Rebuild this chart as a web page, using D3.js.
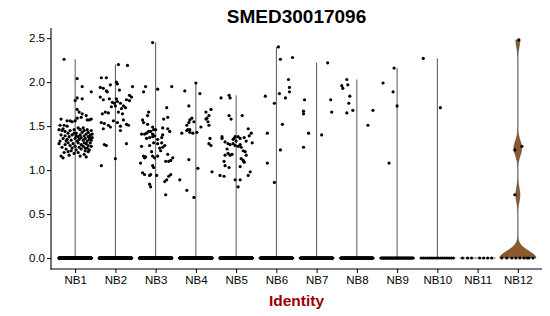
<!DOCTYPE html>
<html>
<head>
<meta charset="utf-8">
<script src="https://cdn.jsdelivr.net/npm/d3@7"></script>
<style>
  html, body { margin: 0; padding: 0; background: #fff; }
  svg { display: block; font-family: "Liberation Sans", Arial, Helvetica, sans-serif; }
</style>
</head>
<body>
<svg id="chart" width="550" height="316"></svg>
<script>
// ---------------- DATA ----------------
const title = "SMED30017096";
const xTitle = "Identity";
const categories = ["NB1","NB2","NB3","NB4","NB5","NB6","NB7","NB8","NB9","NB10","NB11","NB12"];
const yTicks = [0.0, 0.5, 1.0, 1.5, 2.0, 2.5];

// non-zero expression values per identity: [jitter (in 40ths of a category step), value]
const exprNB1 = [[-11,2.26],[2,2.04],[7,1.95],[16,1.89],[2,1.82],[0,1.79],[7,1.81],[2,1.69],[4,1.66],[7,1.64],[11,1.62],[6,1.60],[2,1.59],[16,1.58],[12,1.57],[14,1.57],[0,1.56],[-14,1.58],[-8,1.56],[-5,1.56],[-3,1.55],[-15,1.51],[-11,1.51],[-8,1.50],[-16,1.46],[-13,1.45],[-10,1.44],[-5,1.45],[-1,1.46],[3,1.48],[8,1.48],[12,1.46],[16,1.45],[-14,1.40],[-10,1.39],[-6,1.38],[-3,1.40],[1,1.42],[3,1.38],[5,1.40],[7,1.43],[9,1.39],[11,1.41],[13,1.38],[15,1.40],[17,1.37],[-12,1.36],[-8,1.35],[-4,1.34],[0,1.36],[2,1.33],[4,1.35],[6,1.37],[8,1.34],[10,1.36],[12,1.33],[14,1.35],[16,1.34],[-15,1.33],[-7,1.31],[-2,1.30],[3,1.31],[6,1.29],[9,1.31],[11,1.30],[13,1.28],[15,1.31],[-10,1.29],[-5,1.28],[0,1.27],[4,1.26],[8,1.27],[12,1.25],[16,1.27],[-13,1.26],[-9,1.24],[-3,1.25],[1,1.23],[6,1.24],[10,1.22],[14,1.23],[-11,1.20],[-7,1.21],[-1,1.19],[3,1.20],[9,1.18],[13,1.21],[-14,1.16],[-12,1.14],[-6,1.17],[5,1.16],[11,1.15],[5,1.46],[9,1.45],[-1,1.42],[-7,1.42],[-12,1.47],[1,1.39],[-9,1.33],[13,1.43],[10,1.25],[-4,1.22],[15,1.37],[17,1.41],[-16,1.30]];
const exprNB2 = [[3,2.20],[12,2.19],[-14,2.05],[-9,2.05],[1,2.00],[2,1.98],[17,1.95],[-15,1.94],[-12,1.93],[-9,1.90],[-8,1.89],[-15,1.83],[-12,1.80],[1,1.81],[11,1.80],[14,1.85],[-6,1.81],[-3,1.77],[-1,1.76],[2,1.78],[5,1.76],[8,1.73],[10,1.71],[6,1.70],[-4,1.72],[0,1.73],[14,1.79],[16,1.83],[-10,1.66],[-13,1.64],[-7,1.65],[3,1.66],[7,1.64],[-14,1.54],[-11,1.53],[-7,1.51],[-5,1.49],[-2,1.56],[2,1.54],[5,1.50],[11,1.52],[13,1.51],[5,1.45],[-11,1.29],[-9,1.28],[11,1.30],[-14,1.05],[0,1.13],[-12,1.47],[8,1.57],[-5,1.97],[4,1.91]];
const exprNB3 = [[-3,2.45],[-10,1.95],[-12,1.89],[2,1.92],[16,1.95],[11,1.71],[8,1.58],[12,1.60],[-7,1.66],[-8,1.62],[-13,1.57],[-12,1.54],[-8,1.52],[-3,1.49],[-2,1.46],[0,1.46],[-5,1.44],[-7,1.44],[-3,1.41],[-9,1.42],[7,1.48],[12,1.47],[-14,1.41],[-11,1.41],[-6,1.37],[-3,1.38],[-1,1.39],[2,1.35],[14,1.44],[7,1.40],[6,1.37],[-9,1.36],[-2,1.31],[2,1.30],[6,1.31],[9,1.28],[7,1.26],[4,1.25],[-14,1.27],[-6,1.28],[-12,1.16],[-10,1.15],[-11,1.14],[-3,1.16],[-1,1.14],[2,1.16],[17,1.14],[15,1.11],[10,1.10],[13,1.10],[-3,1.05],[-2,1.03],[12,1.18],[-15,1.08],[-13,0.97],[-11,0.95],[-6,0.94],[-5,0.95],[1,0.94],[13,0.93],[15,0.95],[11,0.89],[9,0.87],[-6,0.84],[-5,0.81],[10,0.72],[5,1.22],[-4,1.21]];
const exprNB4 = [[0,1.99],[-11,1.90],[4,1.87],[-7,1.73],[10,1.66],[15,1.69],[-4,1.59],[-6,1.57],[-7,1.54],[-9,1.51],[11,1.59],[12,1.55],[13,1.51],[-14,1.42],[-9,1.45],[-6,1.46],[-3,1.42],[1,1.43],[5,1.49],[14,1.36],[13,1.30],[15,1.28],[-7,1.12],[2,1.02],[16,0.98],[-16,0.89],[-9,0.77],[-2,0.69],[-8,1.46],[-6,1.43],[10,1.58],[-2,1.55],[13,1.62]];
const exprNB5 = [[-15,1.82],[-7,1.85],[-6,1.82],[-7,1.62],[-5,1.58],[6,1.62],[12,1.47],[15,1.42],[13,1.39],[-14,1.38],[-14,1.36],[-2,1.36],[-1,1.38],[2,1.38],[4,1.36],[8,1.37],[-3,1.35],[-11,1.32],[-8,1.30],[-6,1.29],[-3,1.30],[-1,1.28],[2,1.27],[4,1.29],[5,1.26],[16,1.31],[7,1.22],[9,1.21],[10,1.17],[-8,1.19],[-6,1.17],[-4,1.18],[-11,1.17],[5,1.13],[7,1.11],[8,1.09],[-12,1.10],[-11,1.05],[-7,1.03],[14,0.98],[4,1.04],[-16,0.94],[-12,0.93],[12,0.94],[-1,0.89],[4,0.89],[2,0.81],[-9,1.24],[10,1.33],[0,1.33]];
const exprNB6 = [[2,2.40],[4,2.26],[16,2.28],[12,2.03],[13,1.94],[13,1.89],[3,1.87],[9,1.82],[-11,1.84],[-2,1.76],[6,1.52],[-9,1.42],[4,1.23],[-9,1.08],[-2,0.86]];
const exprNB7 = [[-12,1.80],[-13,1.67],[-13,1.64],[-8,1.42],[-13,1.26],[11,2.22],[5,1.40],[14,1.80],[15,1.66]];
const exprNB8 = [[-10,2.03],[-15,1.96],[-9,1.97],[-14,1.93],[-7,1.84],[-8,1.76],[-10,1.65],[-4,1.68],[16,1.68],[11,1.51]];
const exprNB9 = [[-3,2.16],[-14,1.99],[-4,1.89],[0,1.73],[-8,1.08]];
const exprNB10 = [[-14,2.27],[3,1.71]];
const exprNB11 = [];
const exprNB12 = [[1,2.48],[-3,1.23],[4,1.27],[-3,0.72]];

// number of cells with zero expression per identity
const zeroCounts = [420, 320, 360, 360, 320, 160, 130, 120, 45, 16, 0, 0];
// sparse zero-expression cells read individually: jitter positions
const zeroJitterNB11 = [-15,-10,-6,2,6,10,14];
const zeroJitterNB12 = [-16,-11,-2,2,6,11,15,-6,9];

// ---------------- CHART ----------------
const exprByGroup = [exprNB1,exprNB2,exprNB3,exprNB4,exprNB5,exprNB6,exprNB7,exprNB8,exprNB9,exprNB10,exprNB11,exprNB12];
const violinFill = "#8C5A28";
const svg = d3.select("#chart");

const x = d3.scalePoint().domain(categories).range([51, 542]).padding(0.6);
const y = d3.scaleLinear().domain([-0.124, 2.604]).range([269, 29]);
const step = x.step();
const jx = j => j / 40 * step;
const halfW = 0.45 * step;

// violins
const gV = svg.append("g");
categories.forEach((cat, i) => {
  const cx = x(cat);
  const vals = exprByGroup[i].map(d => d[1]);
  const nZero = i === 10 ? zeroJitterNB11.length : (i === 11 ? zeroJitterNB12.length : zeroCounts[i]);
  const maxV = vals.length ? d3.max(vals) : 0;
  if (i === 11) {
    const h = 0.08;
    const all = vals.concat(d3.range(nZero).map(() => 0));
    const grid = d3.range(0, 513).map(k => k / 512 * maxV);
    const dens = grid.map(g => ({v: g, d: d3.sum(all, a => Math.exp(-0.5 * ((g - a) / h) ** 2))}));
    const dMax = d3.max(dens, d => d.d);
    const area = d3.area()
      .y(d => y(d.v))
      .x0(d => cx - d.d / dMax * halfW)
      .x1(d => cx + d.d / dMax * halfW);
    gV.append("path").datum(dens).attr("d", area)
      .attr("fill", violinFill).attr("stroke", "#3a3a3a").attr("stroke-width", 0.6);
  } else {
    gV.append("line").attr("x1", cx - halfW).attr("x2", cx + halfW)
      .attr("y1", y(0)).attr("y2", y(0)).attr("stroke", "#444").attr("stroke-width", 0.8);
    if (maxV > 0) {
      gV.append("line").attr("x1", cx).attr("x2", cx)
        .attr("y1", y(0)).attr("y2", y(maxV)).attr("stroke", "#555").attr("stroke-width", 1);
    }
  }
});

// points
const gP = svg.append("g");
categories.forEach((cat, i) => {
  const cx = x(cat);
  let zj;
  if (i === 10) zj = zeroJitterNB11;
  else if (i === 11) zj = zeroJitterNB12;
  else zj = d3.range(zeroCounts[i]).map(k => -16 + 32 * k / Math.max(1, zeroCounts[i] - 1));
  gP.selectAll(null).data(zj).enter().append("circle")
    .attr("cx", d => cx + jx(d)).attr("cy", y(0)).attr("r", 1.5).attr("fill", "#000");
  gP.selectAll(null).data(exprByGroup[i]).enter().append("circle")
    .attr("cx", d => cx + jx(d[0])).attr("cy", d => y(d[1])).attr("r", 1.6).attr("fill", "#000");
});

// axes
const yAxis = d3.axisLeft(y).tickValues(yTicks).tickFormat(d3.format(".1f")).tickSize(4).tickPadding(2);
const gy = svg.append("g").attr("transform", "translate(51,0)").call(yAxis);
gy.select(".domain").remove();
gy.selectAll(".tick line").attr("stroke", "#000");
gy.selectAll("text").attr("font-size", 11.5).attr("fill", "#000").attr("font-family", "Liberation Sans, Arial, sans-serif");

const xAxis = d3.axisBottom(x).tickSize(4).tickPadding(3);
const gx = svg.append("g").attr("transform", "translate(0,269)").call(xAxis);
gx.select(".domain").remove();
gx.selectAll(".tick line").attr("stroke", "#000");
gx.selectAll("text").attr("font-size", 11.5).attr("fill", "#000").attr("font-family", "Liberation Sans, Arial, sans-serif");

svg.append("line").attr("x1", 51).attr("x2", 51).attr("y1", 28).attr("y2", 269.5).attr("stroke", "#000").attr("stroke-width", 1.1);
svg.append("line").attr("x1", 50.5).attr("x2", 542).attr("y1", 269).attr("y2", 269).attr("stroke", "#000").attr("stroke-width", 1.1);

// titles
svg.append("text").attr("x", 296.5).attr("y", 23).attr("text-anchor", "middle")
  .attr("font-size", 19).attr("font-weight", "bold").attr("fill", "#000").text(title);
svg.append("text").attr("x", 296.5).attr("y", 306).attr("text-anchor", "middle")
  .attr("font-size", 15.5).attr("font-weight", "bold").attr("fill", "#990000").text(xTitle);
</script>
</body>
</html>
